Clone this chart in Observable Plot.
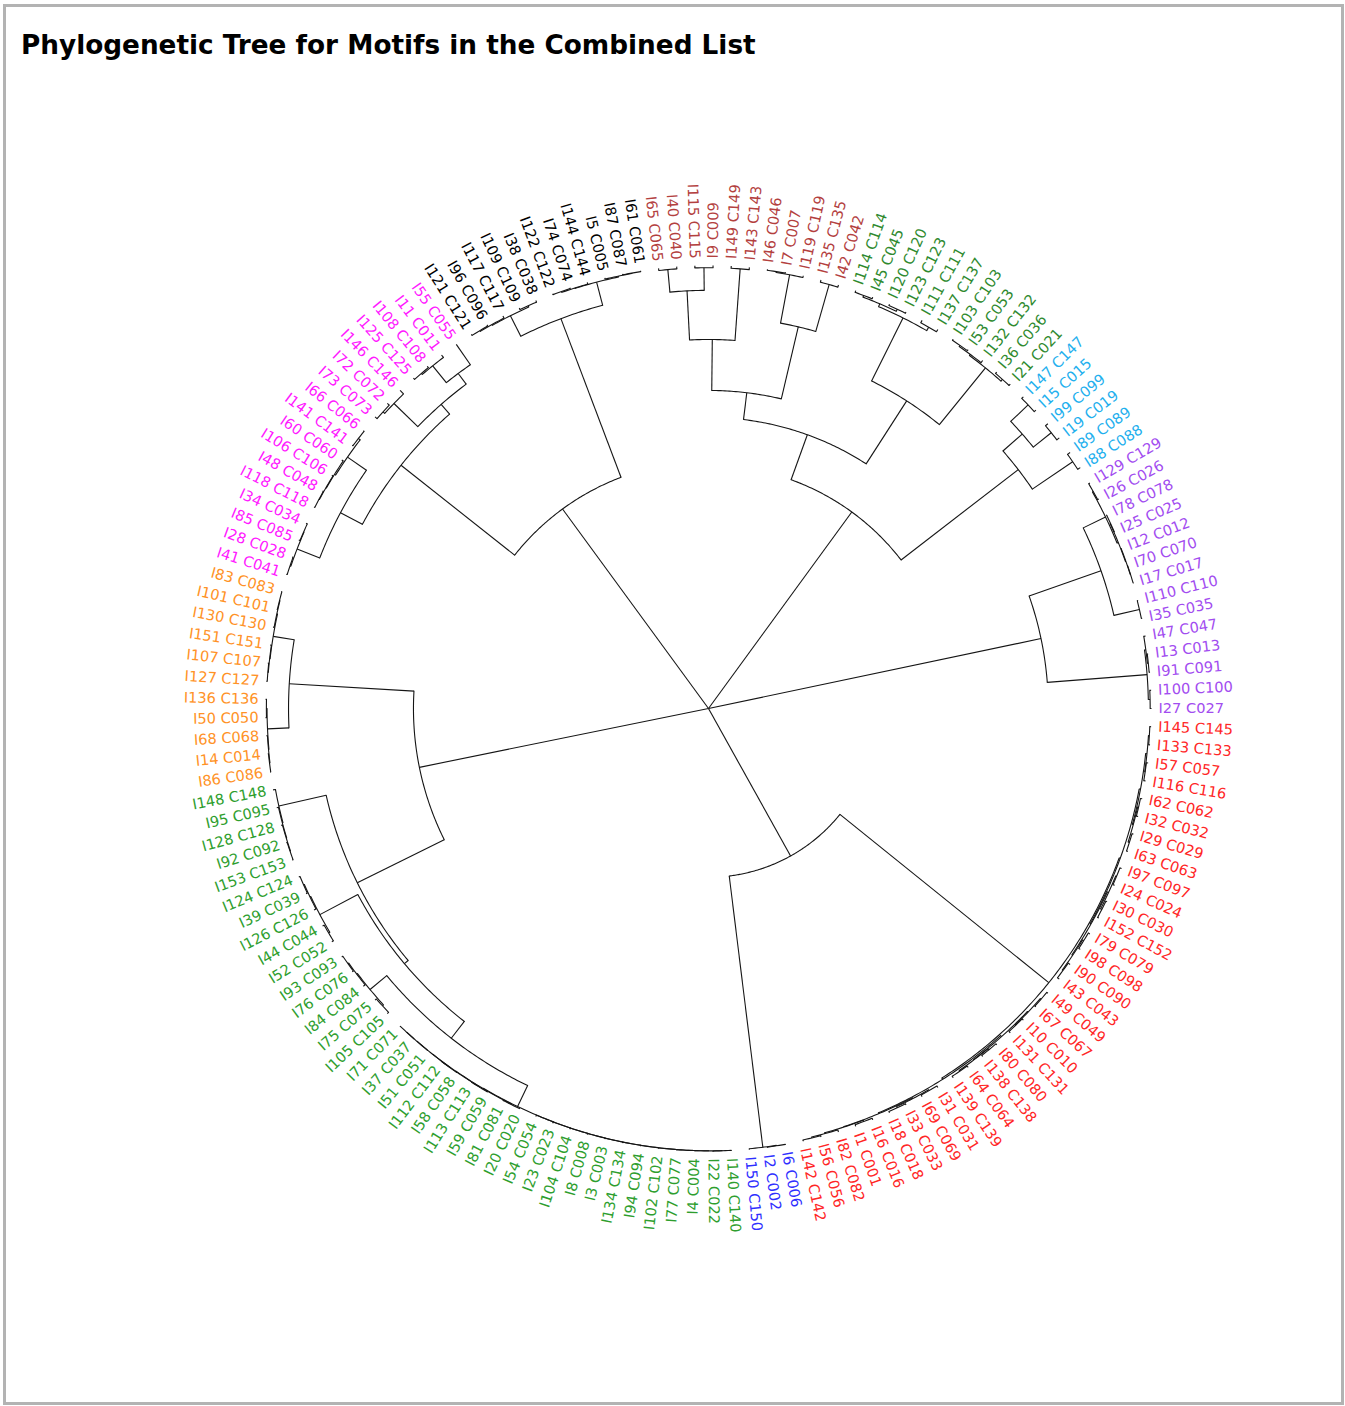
<!DOCTYPE html>
<html><head><meta charset="utf-8">
<script src="https://cdn.jsdelivr.net/npm/d3@7"></script>
<script src="https://cdn.jsdelivr.net/npm/@observablehq/plot@0.6"></script>
<style>
html,body{margin:0;padding:0;background:#fff;}
body{width:1345px;height:1406px;position:relative;overflow:hidden;font-family:"DejaVu Sans",Verdana,sans-serif;}
#frame{position:absolute;left:3px;top:4px;width:1341px;height:1401px;border:3px solid #b3b3b3;box-sizing:border-box;}
#title{position:absolute;left:21px;top:30px;font-weight:bold;font-size:26.3px;line-height:30px;color:#000;white-space:nowrap;}
#chart{position:absolute;left:0;top:80px;}
</style></head><body>
<div id="frame"></div>
<div id="title">Phylogenetic Tree for Motifs in the Combined List</div>
<div id="chart"></div>
<script>
// Subtrees: [mergeHeight (root = 1), child, child, ...]; leaves are tip labels (clockwise order)
const brownTree = [0.282,
  [0.167,
    [0.056, [0.005, "I65 C065", "I40 C040"], [0.005, "I115 C115", "I9 C009"]],
    [0.005, "I149 C149", "I143 C143"]],
  [0.115,
    [0.004, [0.002, "I46 C046", "I7 C007"], "I119 C119"],
    [0.005, "I135 C135", "I42 C042"]]];

const darkGreenTree = [0.174,
  [0.015, [0.008, [0.004, "I114 C114", "I45 C045"], [0.003, "I120 C120", "I123 C123"]], [0.006, "I111 C111", "I137 C137"]],
  [0.009, [0.006, [0.003, "I103 C103", "I53 C053"], "I132 C132"], [0.004, "I36 C036", "I21 C021"]]];

const cyanTree = [0.117,
  [0.059, [0.005, "I147 C147", "I15 C015"], [0.007, "I99 C099", "I19 C019"]],
  [0.007, "I89 C089", "I88 C088"]];

const purpleTree = [0.233,
  [0.061,
    [0.005, [0.003, "I129 C129", "I26 C026"], [0.002, [0.001, "I78 C078", "I25 C025"], [0.001, "I12 C012", [0.0005, "I70 C070", "I17 C017"]]]],
    [0.002, "I110 C110", "I35 C035"]],
  [0.007, [0.004, "I47 C047", [0.002, "I13 C013", "I91 C091"]], [0.003, "I100 C100", "I27 C027"]]];

const redTree = [0.0135,
  [0.011,
    [0.008, [0.005, [0.003, "I145 C145", "I133 C133"], [0.004, "I57 C057", "I116 C116"]], [0.006, [0.004, "I62 C062", "I32 C032"], [0.003, "I29 C029", "I63 C063"]]],
    [0.009, [0.006, [0.004, "I97 C097", "I24 C024"], [0.003, "I30 C030", "I152 C152"]], [0.007, [0.004, "I79 C079", "I98 C098"], [0.005, "I90 C090", "I43 C043"]]]],
  [0.010,
    [0.007, [0.005, [0.003, "I49 C049", "I67 C067"], [0.004, "I10 C010", "I131 C131"]], [0.006, [0.003, "I80 C080", "I138 C138"], [0.004, "I64 C064", "I139 C139"]]],
    [0.008, [0.006, [0.004, "I31 C031", "I69 C069"], [0.003, "I33 C033", "I18 C018"]], [0.007, [0.004, "I16 C016", "I1 C001"], [0.005, "I82 C082", [0.003, "I56 C056", "I142 C142"]]]]]];

const blueTree = [0.002, [0.001, "I6 C006", "I2 C002"], "I150 C150"];

const greenTree = [0.115,
  [0.104,
    [0.056,
      [0.0035,
        [0.0032, [0.003, [0.0028, [0.0026, [0.0024, [0.0022, [0.002, [0.0018, [0.0016, [0.0014, [0.0012, "I140 C140", "I22 C022"], "I4 C004"], "I77 C077"], "I102 C102"], "I94 C094"], "I134 C134"], "I3 C003"], "I8 C008"], "I104 C104"], "I23 C023"], "I54 C054"],
        [0.0025, [0.0012, "I20 C020", "I81 C081"], [0.0018, [0.001, "I59 C059", "I113 C113"], [0.0015, [0.001, "I58 C058", "I112 C112"], [0.0012, "I51 C051", [0.0008, "I37 C037", "I71 C071"]]]]]],
      [0.007, [0.004, "I105 C105", "I75 C075"], [0.005, "I84 C084", [0.003, "I76 C076", "I93 C093"]]]],
    [0.007, [0.004, "I52 C052", "I44 C044"], [0.005, "I126 C126", [0.003, "I39 C039", "I124 C124"]]]],
  [0.0055, [0.004, [0.003, [0.002, "I153 C153", "I92 C092"], "I128 C128"], "I95 C095"], "I148 C148"]];

const orangeTree = [0.052,
  [0.0035, [0.0025, [0.0015, "I86 C086", "I14 C014"], "I68 C068"], [0.002, "I50 C050", "I136 C136"]],
  [0.004, [0.003, [0.002, "I127 C127", "I107 C107"], "I151 C151"], [0.0025, "I130 C130", [0.0015, "I101 C101", "I83 C083"]]]];

const magentaTree = [0.115,
  [0.059,
    [0.004, [0.002, "I41 C041", "I28 C028"], [0.003, "I85 C085", "I34 C034"]],
    [0.007, [0.004, [0.003, [0.002, "I118 C118", "I48 C048"], "I106 C106"], "I60 C060"], [0.002, "I141 C141", "I66 C066"]]],
  [0.086,
    [0.011, [0.006, "I73 C073", "I72 C072"], "I146 C146"],
    [0.056, [0.007, [0.004, "I125 C125", "I108 C108"], "I11 C011"], "I55 C055"]]];

const blackTree = [0.059,
  [0.007, [0.005, [0.003, "I121 C121", "I96 C096"], "I117 C117"], [0.004, "I109 C109", "I38 C038"]],
  [0.005, [0.004, [0.002, "I122 C122", "I74 C074"], "I144 C144"], [0.003, "I5 C005", [0.002, "I87 C087", "I61 C061"]]]];

// Upper merges
const topRightTree = [0.451, [0.343, brownTree, darkGreenTree], cyanTree];
const redBlueTree = [0.619, redTree, blueTree];
const orangeGreenTree = [0.334, greenTree, orangeTree];
const magentaBlackTree = [0.442, magentaTree, blackTree];
const rootTree = [1, topRightTree, purpleTree, redBlueTree, orangeGreenTree, magentaBlackTree];

const groupTrees = [brownTree, darkGreenTree, cyanTree, purpleTree, redTree, blueTree, greenTree, orangeTree, magentaTree, blackTree];
const groupColors = ["#b3403e", "#2f8a2f", "#1fb0ee", "#a24cf0", "#ff2626", "#2f2fff", "#2e9e2e", "#ff9226", "#ff1aff", "#000000"];

// ---- layout (ape-style fan) ----
const W = 1345, H = 1300, CX = 708, CY = 628, R = 443, LABEL_GAP = 7;
const nTips = 153, firstTipSlot = 41; // rotation: first tip (I65) sits 41 slots CCW from 3 o'clock

const leavesOf = t => typeof t === "string" ? [t] : t.slice(1).flatMap(leavesOf);
const colorOf = new Map();
groupTrees.forEach((t, i) => leavesOf(t).forEach(l => colorOf.set(l, groupColors[i])));

let slot = 0;
const tips = [], radials = [], arcs = [];
function layout(t) {
  if (typeof t === "string") {
    const theta = (firstTipSlot - slot) * 360 / nTips; slot++;
    const node = {theta, r: R, label: t, color: colorOf.get(t)};
    tips.push(node);
    return node;
  }
  const r = R * (1 - t[0]);
  const kids = t.slice(1).map(layout);
  const theta = d3.mean(kids, k => k.theta);
  kids.forEach(k => radials.push({r1: r, r2: k.r, theta: k.theta}));
  if (r > 0.5) arcs.push({r, t1: kids[0].theta, t2: kids[kids.length - 1].theta});
  return {theta, r};
}
layout(rootTree);

const rad = a => a * Math.PI / 180;
const px = (r, a) => r * Math.cos(rad(a));
const py = (r, a) => -r * Math.sin(rad(a));

const arcPts = [];
arcs.forEach((a, id) => {
  const n = Math.max(2, Math.ceil(Math.abs(a.t2 - a.t1) / 0.4) + 1);
  for (let i = 0; i < n; i++) {
    const th = a.t1 + (a.t2 - a.t1) * i / (n - 1);
    arcPts.push({id, x: px(a.r, th), y: py(a.r, th)});
  }
});

const norm = a => ((a % 360) + 360) % 360;
const labelData = tips.map(d => {
  const a = norm(d.theta);
  const left = a > 90 && a < 270;
  return {...d, left, x: px(R + LABEL_GAP, d.theta), y: py(R + LABEL_GAP, d.theta),
          rot: left ? 180 - a : -a};
});

const textOpts = {x: "x", y: "y", text: "label", rotate: "rot", fill: "color",
  fontSize: 14.6, fontFamily: "DejaVu Sans, Verdana, sans-serif"};

const chart = Plot.plot({
  width: W, height: H, margin: 0,
  x: {domain: [-CX, W - CX], range: [0, W], axis: null},
  y: {domain: [-CY, H - CY], range: [0, H], axis: null},
  color: {type: "identity"},
  marks: [
    Plot.line(arcPts, {x: "x", y: "y", z: "id", stroke: "#151515", strokeWidth: 1.1}),
    Plot.link(radials, {x1: d => px(d.r1, d.theta), y1: d => py(d.r1, d.theta),
      x2: d => px(d.r2, d.theta), y2: d => py(d.r2, d.theta), stroke: "#151515", strokeWidth: 1.1}),
    Plot.text(labelData.filter(d => !d.left), {...textOpts, textAnchor: "start"}),
    Plot.text(labelData.filter(d => d.left), {...textOpts, textAnchor: "end"})
  ]
});
document.getElementById("chart").appendChild(chart);
</script></body></html>
